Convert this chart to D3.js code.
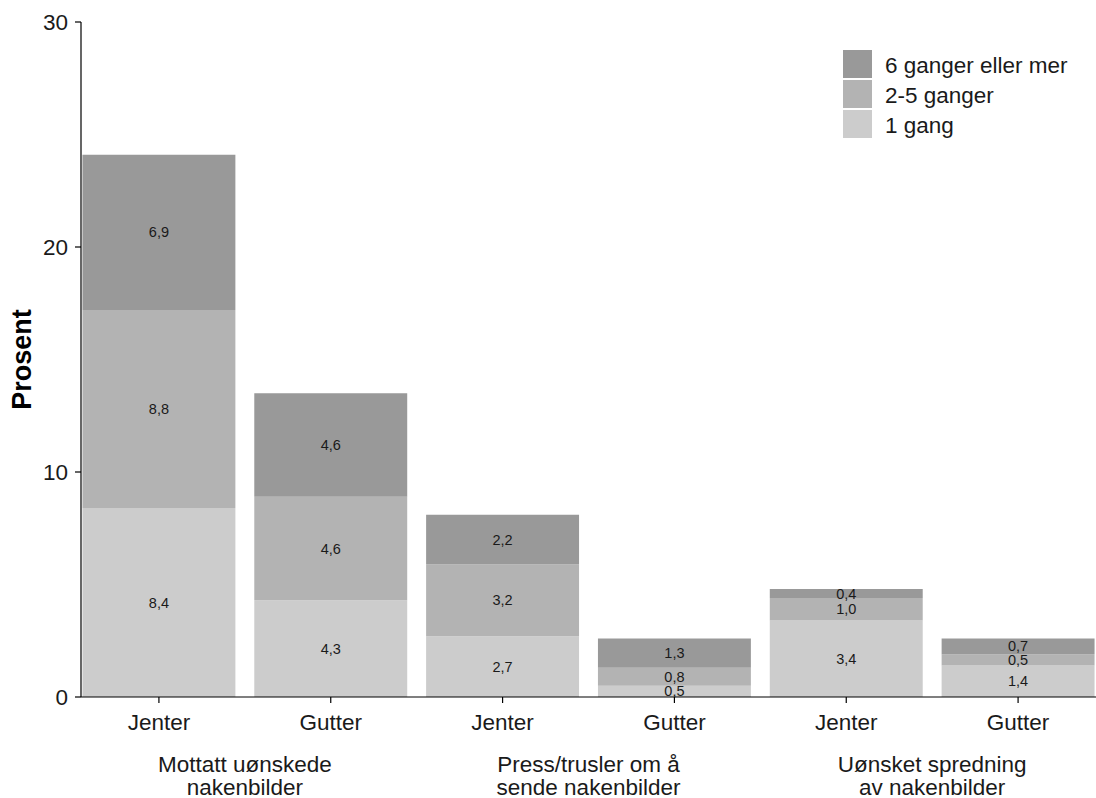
<!DOCTYPE html>
<html>
<head>
<meta charset="utf-8">
<script src="https://cdn.jsdelivr.net/npm/d3@7"></script>
<style>
    body { margin: 0; background: #ffffff; }
    svg { display: block; font-family: "Liberation Sans", Arial, sans-serif; }
</style>
</head>
<body>
<div id="chart"></div>
<script>
    "use strict";

    const groups = ["Mottatt uønskede|nakenbilder", "Press/trusler om å|sende nakenbilder", "Uønsket spredning|av nakenbilder"];
    const genders = ["Jenter", "Gutter"];
    const seriesNames = ["1 gang", "2-5 ganger", "6 ganger eller mer"];
    const seriesColors = ["#cccccc", "#b3b3b3", "#999999"];
    const once = [8.4, 4.3, 2.7, 0.5, 3.4, 1.4];
    const twoToFive = [8.8, 4.6, 3.2, 0.8, 1.0, 0.5];
    const sixPlus = [6.9, 4.6, 2.2, 1.3, 0.4, 0.7];
    const yTicks = [0, 10, 20, 30];

    const width = 1096;
    const height = 798;
    const axisX = 81;
    const yTop = 22;
    const yBottom = 697;
    const textColor = "#1a1a1a";

    const bars = [];
    groups.forEach((g, gi) => {
        genders.forEach((s, si) => {
            const i = gi * 2 + si;
            bars.push({ key: `${gi}-${s}`, gender: s, group: gi, values: [once[i], twoToFive[i], sixPlus[i]] });
        });
    });

    const x = d3.scaleBand()
        .domain(bars.map((d) => d.key))
        .range([73, 1104])
        .paddingInner(0.11)
        .paddingOuter(0.055);

    const y = d3.scaleLinear()
        .domain([0, 30])
        .range([yBottom, yTop]);

    const svg = d3.select("#chart")
        .append("svg")
        .attr("width", width)
        .attr("height", height);

    const barGroup = svg.append("g");

    bars.forEach((bar) => {
        let base = 0;
        bar.values.forEach((v, k) => {
            const top = base + v;
            barGroup.append("rect")
                .attr("x", x(bar.key))
                .attr("width", x.bandwidth())
                .attr("y", y(top))
                .attr("height", y(base) - y(top))
                .attr("fill", seriesColors[k]);
            barGroup.append("text")
                .attr("x", x(bar.key) + x.bandwidth() / 2)
                .attr("y", y(base + v / 2))
                .attr("dy", "0.35em")
                .attr("text-anchor", "middle")
                .attr("fill", textColor)
                .style("font-size", "14.5px")
                .text(v.toFixed(1).replace(".", ","));
            base = top;
        });
    });

    // y axis
    const yAxis = svg.append("g").attr("transform", `translate(${axisX},0)`);
    yAxis.append("line")
        .attr("y1", yTop).attr("y2", yBottom)
        .attr("stroke", "#000000").attr("stroke-width", 1.2);
    yTicks.forEach((t) => {
        yAxis.append("line")
            .attr("x1", -6).attr("x2", 0)
            .attr("y1", y(t)).attr("y2", y(t))
            .attr("stroke", "#000000").attr("stroke-width", 1.2);
        yAxis.append("text")
            .attr("x", -13)
            .attr("y", y(t))
            .attr("dy", "0.35em")
            .attr("text-anchor", "end")
            .attr("fill", textColor)
            .style("font-size", "22.5px")
            .text(t);
    });

    svg.append("text")
        .attr("transform", `translate(31,${(yTop + yBottom) / 2}) rotate(-90)`)
        .attr("text-anchor", "middle")
        .attr("fill", "#000000")
        .style("font-size", "27px")
        .style("font-weight", "700")
        .text("Prosent");

    // x axis
    const xAxis = svg.append("g").attr("transform", `translate(0,${yBottom})`);
    xAxis.append("line")
        .attr("x1", axisX).attr("x2", width)
        .attr("stroke", "#000000").attr("stroke-width", 1.2);
    bars.forEach((bar) => {
        const cx = x(bar.key) + x.bandwidth() / 2;
        xAxis.append("line")
            .attr("x1", cx).attr("x2", cx)
            .attr("y1", 0).attr("y2", 6)
            .attr("stroke", "#000000").attr("stroke-width", 1.2);
        xAxis.append("text")
            .attr("x", cx)
            .attr("y", 25)
            .attr("dy", "0.35em")
            .attr("text-anchor", "middle")
            .attr("fill", textColor)
            .style("font-size", "22.5px")
            .text(bar.gender);
    });

    groups.forEach((g, gi) => {
        const left = x(`${gi}-Jenter`);
        const right = x(`${gi}-Gutter`) + x.bandwidth();
        const cx = (left + right) / 2;
        g.split("|").forEach((line, li) => {
            svg.append("text")
                .attr("x", cx)
                .attr("y", 764 + li * 23)
                .attr("dy", "0.35em")
                .attr("text-anchor", "middle")
                .attr("fill", textColor)
                .style("font-size", "22.5px")
                .text(line);
        });
    });

    // legend
    const legendOrder = [2, 1, 0];
    const legend = svg.append("g").attr("transform", "translate(843,50)");
    legendOrder.forEach((k, i) => {
        legend.append("rect")
            .attr("x", 0)
            .attr("y", i * 30)
            .attr("width", 29)
            .attr("height", 28)
            .attr("fill", seriesColors[k]);
        legend.append("text")
            .attr("x", 42)
            .attr("y", i * 30 + 15)
            .attr("dy", "0.35em")
            .attr("fill", textColor)
            .style("font-size", "22.5px")
            .text(seriesNames[k]);
    });
</script>
</body>
</html>
